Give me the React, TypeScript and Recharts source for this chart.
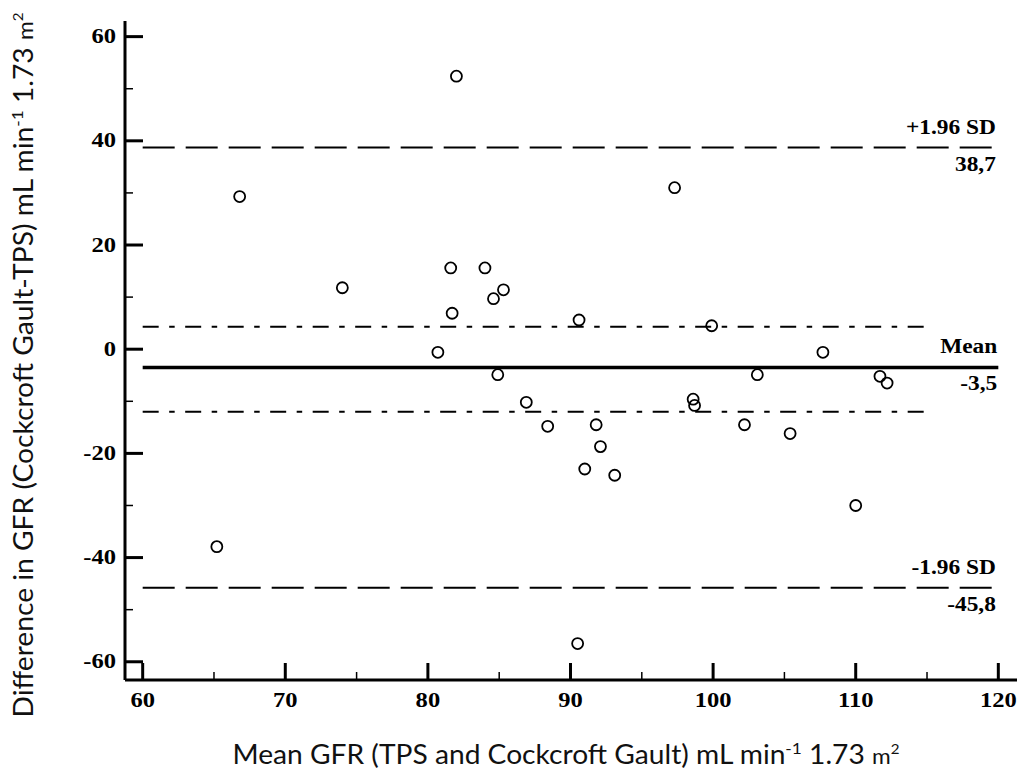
import { ScatterChart, Scatter, XAxis, YAxis, ReferenceLine } from "recharts";

// Bland-Altman: mean GFR (x) vs difference Cockcroft Gault - TPS (y)
const meanGfr = [
  82.0, 66.8, 97.3, 74.0, 81.6, 84.0, 85.3, 84.6, 81.7, 90.6,
  99.9, 80.7, 107.7, 84.9, 103.1, 111.7, 112.2, 86.9, 98.6, 98.7,
  88.4, 91.8, 102.2, 92.1, 105.4, 91.0, 93.1, 110.0, 65.2, 90.5,
];
const diffGfr = [
  52.4, 29.3, 31.0, 11.8, 15.6, 15.6, 11.4, 9.7, 6.9, 5.6,
  4.5, -0.6, -0.6, -4.9, -4.9, -5.2, -6.5, -10.2, -9.6, -10.8,
  -14.8, -14.5, -14.5, -18.7, -16.2, -23.0, -24.2, -30.0, -37.9, -56.5,
];

const xMajorTicks = [60, 70, 80, 90, 100, 110, 120];
const xMinorTicks = [65, 75, 85, 95, 105, 115];
const yMajorTicks = [-60, -40, -20, 0, 20, 40, 60];
const yMinorTicks = [-50, -30, -10, 10, 30, 50];

const meanDiff = -3.5;
const upperLoa = 38.7;
const lowerLoa = -45.8;
const meanCiUpper = 4.3;
const meanCiLower = -12.0;

const points = meanGfr.map((x, i) => ({ x, y: diffGfr[i] }));

const SERIF = "'Liberation Serif', 'Times New Roman', serif";
const SANS = "Lato, 'Open Sans', sans-serif";
const STRETCH = "scale(1.17,1)";

function XTick({ x, y, payload }: any) {
  const major = xMajorTicks.includes(payload.value);
  return (
    <g transform={`translate(${x},${y})`}>
      <line x1={0} y1={0} x2={0} y2={major ? -17 : -8} stroke="#000" strokeWidth={major ? 3 : 1.5} />
      {major && (
        <text transform={STRETCH} x={0} y={27} textAnchor="middle" fontFamily={SERIF} fontWeight="bold" fontSize={21} fill="#000">
          {payload.value}
        </text>
      )}
    </g>
  );
}

function YTick({ x, y, payload }: any) {
  const major = yMajorTicks.includes(payload.value);
  return (
    <g transform={`translate(${x},${y})`}>
      <line x1={0} y1={0} x2={major ? 18 : 8} y2={0} stroke="#000" strokeWidth={major ? 3 : 1.5} />
      {major && (
        <text transform={STRETCH} x={-9 / 1.17} y={6.5} textAnchor="end" fontFamily={SERIF} fontWeight="bold" fontSize={21} fill="#000">
          {payload.value}
        </text>
      )}
    </g>
  );
}

// two-line label at the right end of a reference line
function LineLabel({ viewBox, top, bottom }: any) {
  const xr = viewBox.x + viewBox.width - 1;
  const y = viewBox.y;
  return (
    <g fontFamily={SERIF} fontWeight="bold" fontSize={20} fill="#000">
      <text transform={`translate(${xr},${y - 14}) ${STRETCH}`} textAnchor="end">{top}</text>
      <text transform={`translate(${xr},${y + 23}) ${STRETCH}`} textAnchor="end">{bottom}</text>
    </g>
  );
}

const Ring = (props: any) => (
  <circle cx={props.cx} cy={props.cy} r={5.5} fill="none" stroke="#000" strokeWidth={1.8} />
);

export default function App() {
  return (
    <div style={{ position: "absolute", left: 0, top: 0, width: 1021, height: 772, background: "#fff" }}>
      <ScatterChart width={1021} height={772} margin={{ top: 21, right: 4, bottom: 62, left: 65 }}>
        <XAxis
          type="number"
          dataKey="x"
          domain={[58.76, 121.31]}
          ticks={[...xMajorTicks, ...xMinorTicks].sort((a, b) => a - b)}
          interval={0}
          height={30}
          tickSize={0}
          tickMargin={0}
          tickLine={false}
          tick={<XTick />}
          stroke="#000"
          strokeWidth={3}
          axisLine={{ stroke: "#000", strokeWidth: 3 }}
          allowDataOverflow
        />
        <YAxis
          type="number"
          dataKey="y"
          domain={[-63.5, 63.0]}
          ticks={[...yMajorTicks, ...yMinorTicks].sort((a, b) => a - b)}
          interval={0}
          width={60}
          tickSize={0}
          tickMargin={0}
          tickLine={false}
          tick={<YTick />}
          stroke="#000"
          strokeWidth={3}
          axisLine={{ stroke: "#000", strokeWidth: 3 }}
          allowDataOverflow
        />
        <ReferenceLine
          segment={[{ x: 60, y: upperLoa }, { x: 119.9, y: upperLoa }]}
          stroke="#000"
          strokeWidth={2}
          strokeDasharray="32 11"
          label={(p: any) => <LineLabel {...p} top="+1.96 SD" bottom="38,7" />}
        />
        <ReferenceLine
          segment={[{ x: 60, y: meanCiUpper }, { x: 115.1, y: meanCiUpper }]}
          stroke="#000"
          strokeWidth={2}
          strokeDasharray="16 10.5 5.5 10.5"
        />
        <ReferenceLine
          segment={[{ x: 60, y: meanDiff }, { x: 120, y: meanDiff }]}
          stroke="#000"
          strokeWidth={3.5}
          label={(p: any) => <LineLabel {...p} top="Mean" bottom="-3,5" />}
        />
        <ReferenceLine
          segment={[{ x: 60, y: meanCiLower }, { x: 115.1, y: meanCiLower }]}
          stroke="#000"
          strokeWidth={2}
          strokeDasharray="16 10.5 5.5 10.5"
        />
        <ReferenceLine
          segment={[{ x: 60, y: lowerLoa }, { x: 119.9, y: lowerLoa }]}
          stroke="#000"
          strokeWidth={2}
          strokeDasharray="32 11"
          label={(p: any) => <LineLabel {...p} top="-1.96 SD" bottom="-45,8" />}
        />
        <Scatter data={points} shape={<Ring />} isAnimationActive={false} />
        <text
          x={566}
          y={764}
          textAnchor="middle"
          fontFamily={SANS}
          fontSize={26}
          fill="#111"
          textLength={667}
          lengthAdjust="spacingAndGlyphs"
        >
          Mean GFR (TPS and Cockcroft Gault) mL min
          <tspan fontSize={16} dy={-10}>-1</tspan>
          <tspan dy={10}> 1.73 </tspan>
          <tspan fontSize={21}>m</tspan>
          <tspan fontSize={14} dy={-10}>2</tspan>
        </text>
        <text
          transform="translate(33,365) rotate(-90)"
          x={0}
          y={0}
          textAnchor="middle"
          fontFamily={SANS}
          fontSize={26}
          fill="#111"
          textLength={705}
          lengthAdjust="spacingAndGlyphs"
        >
          Difference in GFR (Cockcroft Gault-TPS) mL min
          <tspan fontSize={16} dy={-10}>-1</tspan>
          <tspan dy={10}> 1.73 </tspan>
          <tspan fontSize={21}>m</tspan>
          <tspan fontSize={14} dy={-10}>2</tspan>
        </text>
      </ScatterChart>
    </div>
  );
}
